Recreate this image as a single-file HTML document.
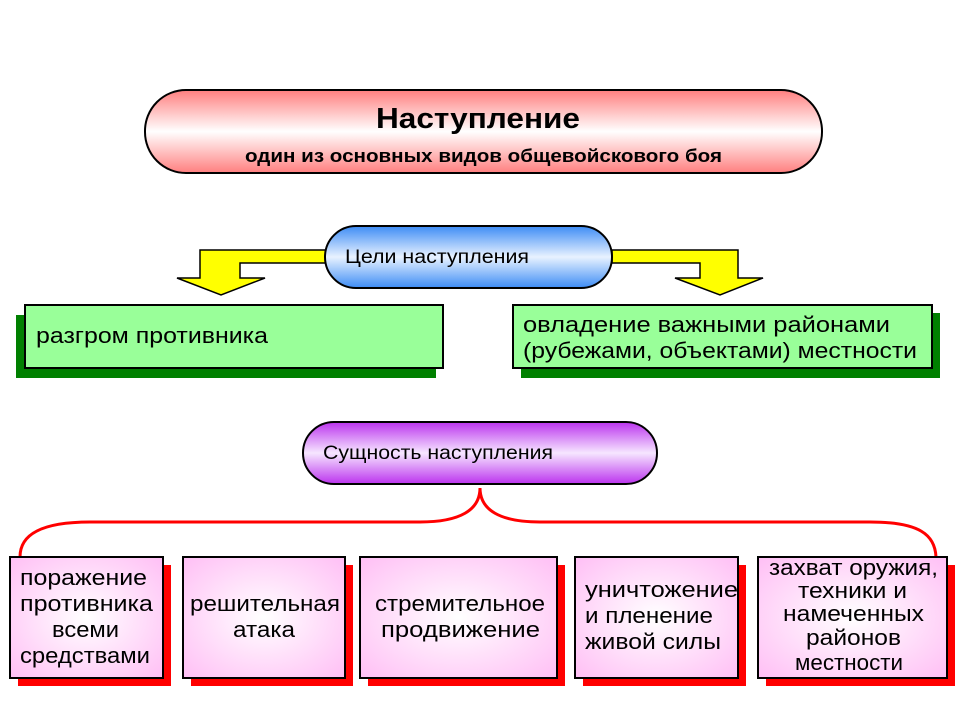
<!DOCTYPE html>
<html><head><meta charset="utf-8"><style>
html,body{margin:0;padding:0;background:#fff;width:960px;height:720px;overflow:hidden}
svg{display:block}
text{font-family:"Liberation Sans","DejaVu Sans",sans-serif;fill:#000}
</style></head><body>
<svg width="960" height="720" viewBox="0 0 960 720" xmlns="http://www.w3.org/2000/svg">
<defs>
<linearGradient id="gr" x1="0" y1="0" x2="0" y2="1">
<stop offset="0" stop-color="#ff7f7f"/><stop offset="0.5" stop-color="#ffffff"/><stop offset="1" stop-color="#ff7f7f"/></linearGradient>
<linearGradient id="gb" x1="0" y1="0" x2="0" y2="1">
<stop offset="0" stop-color="#3d8cf5"/><stop offset="0.5" stop-color="#e8f2ff"/><stop offset="1" stop-color="#3d8cf5"/></linearGradient>
<linearGradient id="gp" x1="0" y1="0" x2="0" y2="1">
<stop offset="0" stop-color="#bb33ee"/><stop offset="0.5" stop-color="#f6e6ff"/><stop offset="1" stop-color="#bb33ee"/></linearGradient>
<radialGradient id="pk" cx="0.5" cy="0.5" r="0.7">
<stop offset="0" stop-color="#ffffff"/><stop offset="1" stop-color="#ffbff5"/></radialGradient>
</defs>

<rect x="145" y="90" width="677" height="83" rx="41" fill="url(#gr)" stroke="#000" stroke-width="2"/>
<text x="376" y="128" font-size="29" font-weight="bold" textLength="204" lengthAdjust="spacingAndGlyphs">Наступление</text>
<text x="245" y="162" font-size="18" font-weight="bold" textLength="477" lengthAdjust="spacingAndGlyphs">один из основных видов общевойскового боя</text>

<path d="M326,250 L200,250 L200,278 L177,278 L221,295 L265,278 L240,278 L240,263 L326,263 Z" fill="#ffff00" stroke="#000" stroke-width="1.5"/>
<path d="M612,250 L738,250 L738,278 L763,278 L720,295 L675,278 L700,278 L700,263 L612,263 Z" fill="#ffff00" stroke="#000" stroke-width="1.5"/>

<rect x="325" y="226" width="287" height="62" rx="31" fill="url(#gb)" stroke="#000" stroke-width="2"/>
<text x="345" y="263" font-size="19" textLength="184" lengthAdjust="spacingAndGlyphs">Цели наступления</text>

<rect x="16" y="315" width="420" height="63" fill="#008000"/>
<rect x="25" y="305" width="418" height="63" fill="#99ff99" stroke="#000" stroke-width="2"/>
<text x="36" y="343" font-size="22" textLength="232" lengthAdjust="spacingAndGlyphs">разгром противника</text>

<rect x="521" y="313" width="419" height="65" fill="#008000"/>
<rect x="513" y="305" width="419" height="63" fill="#99ff99" stroke="#000" stroke-width="2"/>
<text x="523" y="332" font-size="22" textLength="367" lengthAdjust="spacingAndGlyphs">овладение  важными  районами</text>
<text x="523" y="358" font-size="22" textLength="394" lengthAdjust="spacingAndGlyphs">(рубежами, объектами)  местности</text>

<rect x="303" y="422" width="354" height="62" rx="31" fill="url(#gp)" stroke="#000" stroke-width="2"/>
<text x="323" y="459" font-size="19" textLength="230" lengthAdjust="spacingAndGlyphs">Сущность наступления</text>

<path d="M480,488 C480,510 460,522 420,522 L90,522 C40,522 20,535 20,557" fill="none" stroke="#ff0000" stroke-width="3"/>
<path d="M480,488 C480,510 500,522 540,522 L870,522 C920,522 935,535 936,557" fill="none" stroke="#ff0000" stroke-width="3"/>

<g font-size="22">
<rect x="18" y="565" width="153" height="121" fill="#ff0000"/>
<rect x="10" y="557" width="153" height="121" fill="url(#pk)" stroke="#000" stroke-width="2"/>
<text x="20" y="585" textLength="127" lengthAdjust="spacingAndGlyphs">поражение</text>
<text x="20" y="611" textLength="133" lengthAdjust="spacingAndGlyphs">противника</text>
<text x="52" y="637" textLength="67" lengthAdjust="spacingAndGlyphs">всеми</text>
<text x="20" y="663" textLength="130" lengthAdjust="spacingAndGlyphs">средствами</text>

<rect x="191" y="565" width="162" height="121" fill="#ff0000"/>
<rect x="183" y="557" width="162" height="121" fill="url(#pk)" stroke="#000" stroke-width="2"/>
<text x="190" y="611" textLength="150" lengthAdjust="spacingAndGlyphs">решительная</text>
<text x="233" y="637" textLength="62" lengthAdjust="spacingAndGlyphs">атака</text>

<rect x="368" y="565" width="197" height="121" fill="#ff0000"/>
<rect x="360" y="557" width="197" height="121" fill="url(#pk)" stroke="#000" stroke-width="2"/>
<text x="375" y="611" textLength="170" lengthAdjust="spacingAndGlyphs">стремительное</text>
<text x="381" y="637" textLength="159" lengthAdjust="spacingAndGlyphs">продвижение</text>

<rect x="583" y="565" width="163" height="121" fill="#ff0000"/>
<rect x="575" y="557" width="163" height="121" fill="url(#pk)" stroke="#000" stroke-width="2"/>
<text x="585" y="597" textLength="153" lengthAdjust="spacingAndGlyphs">уничтожение</text>
<text x="585" y="623" textLength="128" lengthAdjust="spacingAndGlyphs">и пленение</text>
<text x="585" y="649" textLength="136" lengthAdjust="spacingAndGlyphs">живой силы</text>

<rect x="766" y="565" width="189" height="121" fill="#ff0000"/>
<rect x="758" y="557" width="189" height="121" fill="url(#pk)" stroke="#000" stroke-width="2"/>
<text x="769" y="575" textLength="169" lengthAdjust="spacingAndGlyphs">захват оружия,</text>
<text x="798" y="598" textLength="109" lengthAdjust="spacingAndGlyphs">техники и</text>
<text x="783" y="621" textLength="141" lengthAdjust="spacingAndGlyphs">намеченных</text>
<text x="806" y="645" textLength="95" lengthAdjust="spacingAndGlyphs">районов</text>
<text x="795" y="670" textLength="108" lengthAdjust="spacingAndGlyphs">местности</text>
</g>
</svg>
</body></html>
